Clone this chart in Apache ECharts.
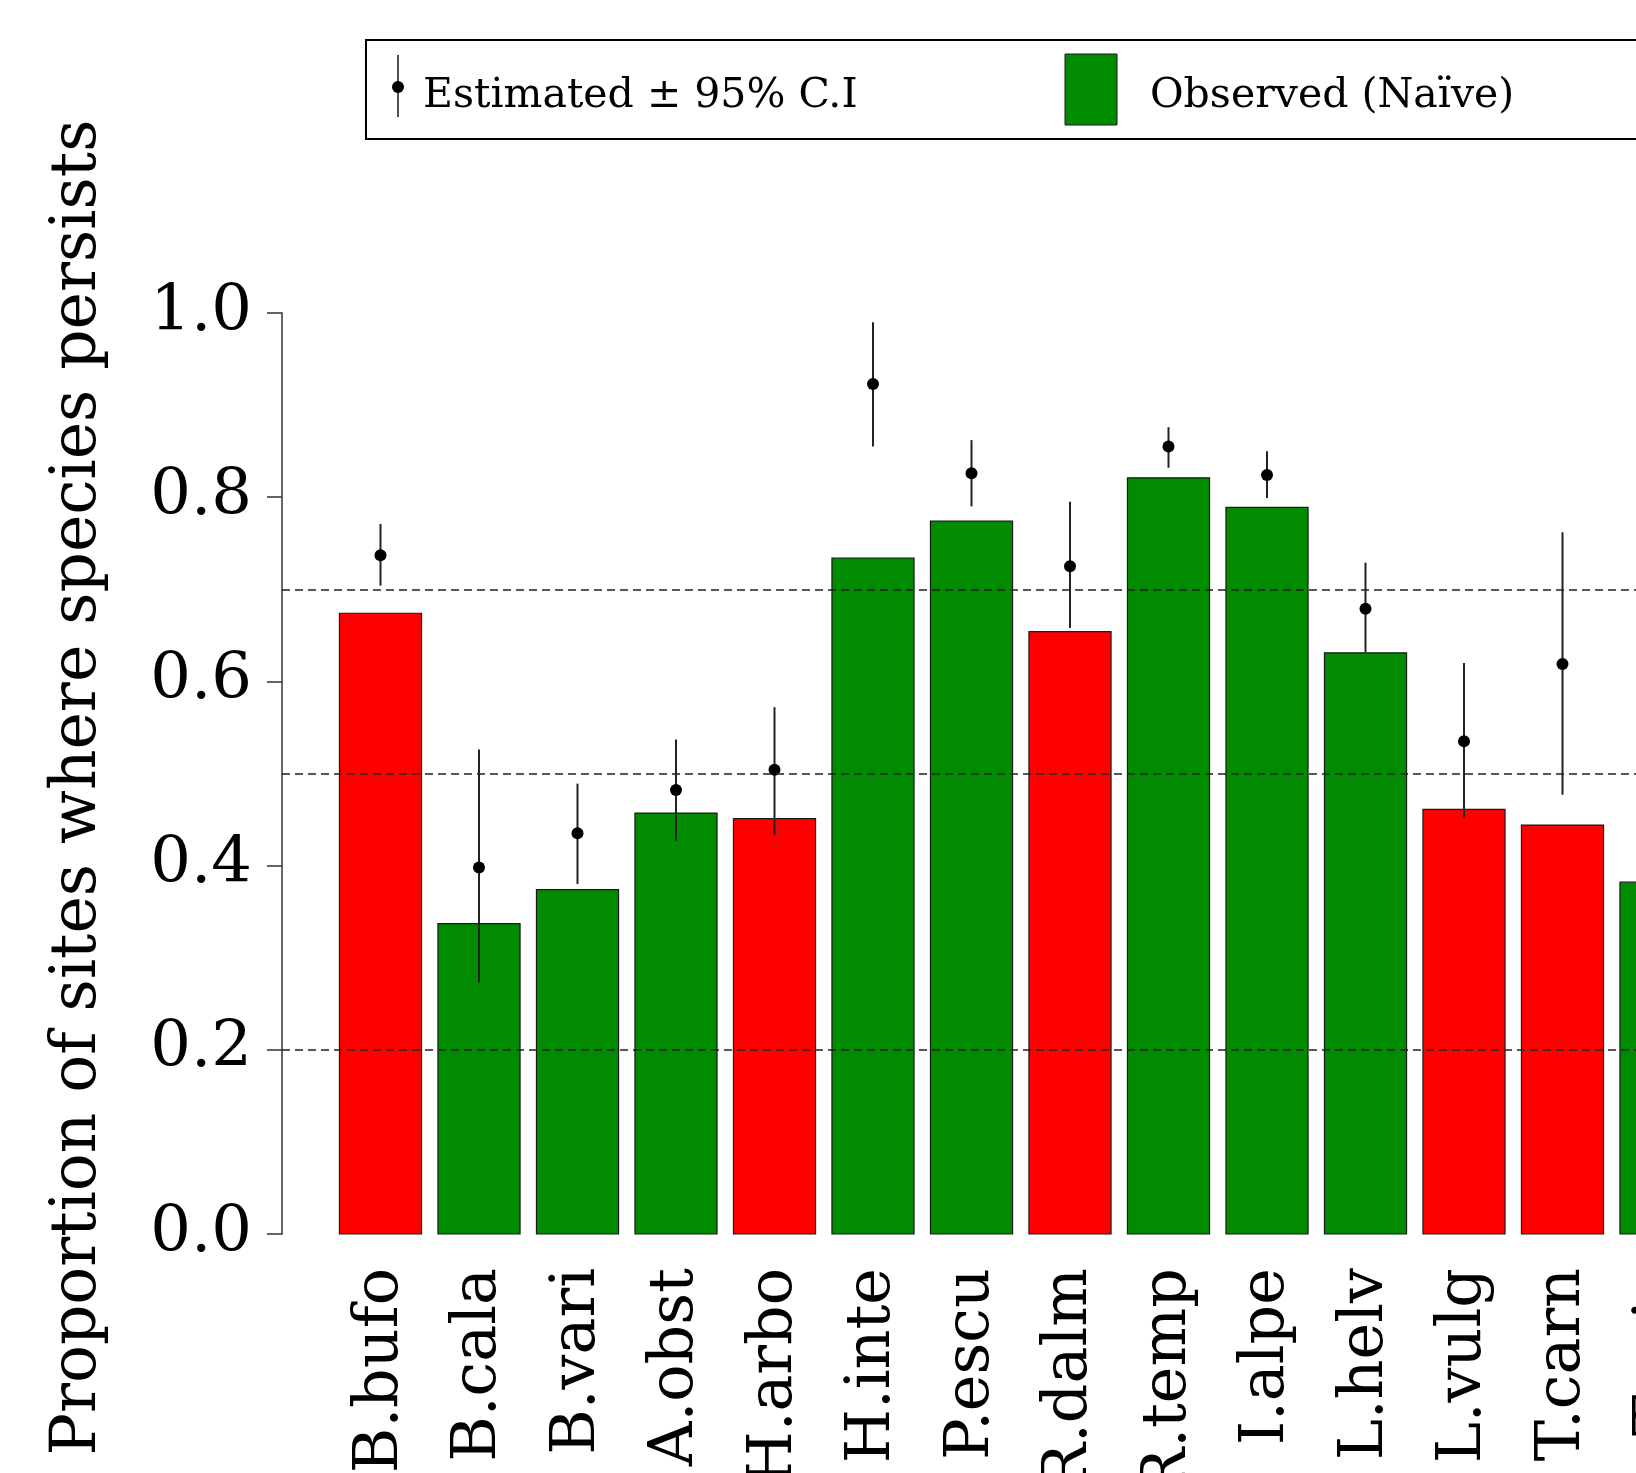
<!DOCTYPE html>
<html>
<head>
<meta charset="utf-8">
<script src="https://cdn.jsdelivr.net/npm/echarts@6/dist/echarts.min.js"></script>
<style>
  html, body { margin: 0; padding: 0; background: #fff; }
  #chart { width: 1636px; height: 1473px; }
</style>
</head>
<body>
<div id="chart"></div>
<script>
// species shown on the x axis (the last one is cut by the frame)
const species = ['B.bufo', 'B.cala', 'B.vari', 'A.obst', 'H.arbo', 'H.inte', 'P.escu',
  'R.dalm', 'R.temp', 'I.alpe', 'L.helv', 'L.vulg', 'T.carn', 'T.cris']

// observed (naive) proportion of sites
const observed = [0.674, 0.337, 0.374, 0.457, 0.451, 0.734, 0.774,
  0.654, 0.821, 0.789, 0.631, 0.461, 0.444, 0.382]

// estimated proportion with 95% C.I (not visible for the last species)
const estimated = [0.737, 0.398, 0.435, 0.482, 0.504, 0.923, 0.826,
  0.725, 0.855, 0.824, 0.679, 0.535, 0.619, null]
const lower = [0.704, 0.273, 0.380, 0.427, 0.433, 0.855, 0.790,
  0.658, 0.832, 0.799, 0.632, 0.452, 0.477, null]
const upper = [0.771, 0.526, 0.489, 0.537, 0.572, 0.990, 0.862,
  0.795, 0.876, 0.850, 0.729, 0.620, 0.762, null]

// bars drawn in red
const flagged = [true, false, false, false, true, false, false,
  true, false, false, false, true, true, false]

// dashed reference levels
const refLines = [0.2, 0.5, 0.7]
const yTicks = [0, 0.2, 0.4, 0.6, 0.8, 1.0]

const FONT = "'DejaVu Serif', serif"
const RED = '#ff0000'
const GREEN = '#008b00'
const STEP = 1.2 // R barplot: bar width 1 + space 0.2

const chart = echarts.init(document.getElementById('chart'), null, { renderer: 'canvas' })

function renderBar(params, api) {
  const x = api.value(0)
  const a = api.coord([x - 0.5, api.value(1)])
  const b = api.coord([x + 0.5, 0])
  return {
    type: 'rect',
    shape: { x: a[0], y: a[1], width: b[0] - a[0], height: b[1] - a[1] },
    style: {
      fill: flagged[api.value(2)] ? RED : GREEN,
      stroke: '#1a1a1a',
      lineWidth: 1.2
    }
  }
}

function renderEstimate(params, api) {
  const x = api.value(0)
  const pt = api.coord([x, api.value(1)])
  const lo = api.coord([x, api.value(2)])
  const hi = api.coord([x, api.value(3)])
  return {
    type: 'group',
    children: [
      {
        type: 'line',
        shape: { x1: lo[0], y1: lo[1], x2: hi[0], y2: hi[1] },
        style: { stroke: '#222', lineWidth: 2 }
      },
      {
        type: 'circle',
        shape: { cx: pt[0], cy: pt[1], r: 6 },
        style: { fill: '#000' }
      }
    ]
  }
}

const barData = species.map((s, i) => [i * STEP, observed[i], i])
const estData = species
  .map((s, i) => [i * STEP, estimated[i], lower[i], upper[i]])
  .filter(d => d[1] != null)

const options = {
  animation: false,
  backgroundColor: '#fff',
  grid: {
    left: 282,
    top: 313,
    width: 1477.5,
    height: 921,
    outerBoundsMode: 'none',
    containLabel: false
  },
  xAxis: {
    type: 'value',
    min: -STEP,
    max: 14 * STEP,
    interval: STEP,
    axisLine: { show: false },
    axisTick: { show: false },
    splitLine: { show: false },
    axisLabel: {
      rotate: 90,
      margin: 34,
      fontFamily: FONT,
      fontSize: 62,
      color: '#000',
      showMinLabel: true,
      showMaxLabel: true,
      formatter: v => species[Math.round(v / STEP)] || ''
    }
  },
  yAxis: {
    type: 'value',
    min: yTicks[0],
    max: yTicks[yTicks.length - 1],
    interval: 0.2,
    name: 'Proportion of sites where species persists',
    nameLocation: 'middle',
    nameRotate: 90,
    nameGap: 172,
    nameTextStyle: {
      fontFamily: FONT,
      fontSize: 63,
      color: '#000',
      padding: [0, 28, 0, 0]
    },
    axisLine: { show: true, onZero: false, lineStyle: { color: '#333', width: 1.5 } },
    axisTick: { show: true, length: 15, lineStyle: { color: '#333', width: 1.5 } },
    splitLine: { show: false },
    axisLabel: {
      margin: 30,
      fontFamily: FONT,
      fontSize: 64,
      color: '#000',
      formatter: v => v.toFixed(1)
    }
  },
  series: [
    {
      name: 'Observed (Naïve)',
      type: 'custom',
      renderItem: renderBar,
      data: barData,
      encode: { x: 0, y: 1 },
      z: 2,
      silent: true
    },
    {
      name: 'Estimated ± 95% C.I',
      type: 'custom',
      renderItem: renderEstimate,
      data: estData,
      encode: { x: 0, y: 1 },
      z: 3,
      silent: true,
      markLine: {
        silent: true,
        symbol: ['none', 'none'],
        label: { show: false },
        emphasis: { disabled: true },
        lineStyle: { type: [8, 5], color: '#222', width: 1.5 },
        data: refLines.map(v => ({ yAxis: v }))
      }
    }
  ],
  graphic: [
    {
      type: 'rect',
      shape: { x: 366, y: 40, width: 1400, height: 99 },
      style: { fill: '#fff', stroke: '#000', lineWidth: 2 }
    },
    {
      type: 'line',
      shape: { x1: 398, y1: 55, x2: 398, y2: 117 },
      style: { stroke: '#222', lineWidth: 1.6 }
    },
    {
      type: 'circle',
      shape: { cx: 398, cy: 87, r: 6 },
      style: { fill: '#000' }
    },
    {
      type: 'text',
      x: 423,
      y: 96,
      style: {
        text: 'Estimated ± 95% C.I',
        fontFamily: FONT,
        fontSize: 41,
        fill: '#000',
        verticalAlign: 'middle'
      }
    },
    {
      type: 'rect',
      shape: { x: 1065, y: 54, width: 52, height: 71 },
      style: { fill: GREEN, stroke: '#1a1a1a', lineWidth: 1 }
    },
    {
      type: 'text',
      x: 1150,
      y: 96,
      style: {
        text: 'Observed (Naïve)',
        fontFamily: FONT,
        fontSize: 41,
        fill: '#000',
        verticalAlign: 'middle'
      }
    }
  ]
}

chart.setOption(options)
</script>
</body>
</html>
